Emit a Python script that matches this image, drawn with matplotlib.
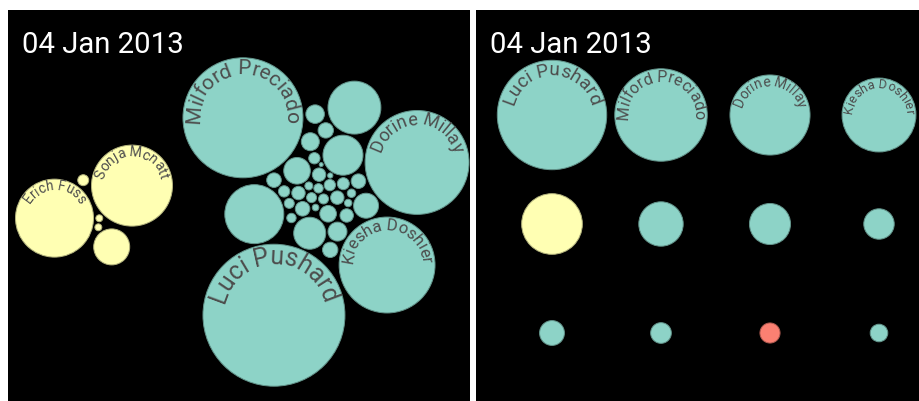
import numpy as np
import matplotlib
matplotlib.use("Agg")
import matplotlib.pyplot as plt
from matplotlib.patches import Circle
from matplotlib.font_manager import FontProperties, findfont, get_font

# ---------------- data ----------------
date_label = "04 Jan 2013"

teal_names = ["Luci Pushard", "Dorine Millay", "Milford Preciado", "Kiesha Doshier"] + [""] * 34
teal_values = [504, 270, 360, 230, 70, 5.3, 15.6, 17.7, 5.9, 5.9, 87, 9.0, 8.6, 6.9, 40,
               4.5, 2.5, 8.1, 25.6, 3.2, 0.4, 2.2, 4.5, 1.1, 3.6, 3.2, 2.2, 4.5, 5.3,
               0.7, 3.2, 2.5, 5.3, 1.6, 1.4, 1.8, 2.5, 4.5]

yellow_names = ["Sonja Mcnatt", "", "", "", "Erich Fuss", ""]
yellow_values = [164, 1.2, 32.4, 3.0, 152, 1.2]

grid_names = ["Luci Pushard", "Milford Preciado", "Dorine Millay", "Kiesha Doshier",
              "", "", "", "", "", "", "", ""]
grid_values = [504, 360, 270, 230, 155, 83, 71, 39, 26, 18, 17, 13]
grid_groups = ["b", "b", "b", "b", "a", "b", "b", "b", "b", "b", "c", "b"]

group_colors = {"a": "#ffffb3", "b": "#8dd3c7", "c": "#fb8072"}

# ---------------- helpers ----------------
W, H, DPI = 920, 401, 100
FONT = "Roboto"
LABEL_COLOR = "#4d4d4d"


def darker(hexcol, k=0.7):
    c = np.array(matplotlib.colors.to_rgb(hexcol)) * k
    return tuple(c)


GOLDEN = np.pi * (3 - np.sqrt(5))


def pack(values, scale, offset_deg, gxy=(1.0, 1.0), pad=2.5, iters=700):
    r = scale * np.sqrt(np.asarray(values, float))
    n = len(r)
    rank = np.argsort(np.argsort(r))
    d0 = np.sqrt(np.cumsum(np.sort(r) ** 2))[rank] * 1.3
    ang = np.deg2rad(offset_deg) + GOLDEN * np.arange(n)
    p = np.c_[d0 * np.cos(ang), d0 * np.sin(ang)]
    m = r ** 2
    pull = np.clip(0.12 / r, 0.0015, 0.03)[:, None] * np.asarray(gxy)[None, :]

    def collide(p, f=0.5):
        diff = p[:, None, :] - p[None, :, :]
        dist = np.sqrt((diff ** 2).sum(-1))
        np.fill_diagonal(dist, 1e9)
        need = r[:, None] + r[None, :] + pad
        ov = np.clip(need - dist, 0, None)
        w = m[None, :] / (m[:, None] + m[None, :])
        return p + f * ((ov * w / np.maximum(dist, 1e-6))[:, :, None] * diff).sum(1)

    for it in range(iters):
        p = p - p * pull
        for _ in range(3):
            p = collide(p)
    for _ in range(300):
        p = collide(p)
    return p, r


def place(p, r, anchor):
    lo = (p - r[:, None]).min(0)
    hi = (p + r[:, None]).max(0)
    return p - (lo + hi) / 2 + np.asarray(anchor)


def curved_label(ax, cx, cy, r, text):
    fpx = 0.35 * r
    fp = FontProperties(family=FONT)
    font = get_font(findfont(fp))
    font.set_size(fpx, 72)
    adv = 0.95 * np.array([font.load_char(ord(ch)).linearHoriAdvance / 65536 for ch in text])
    total = adv.sum()
    centers = np.cumsum(adv) - adv / 2 - total / 2
    R = r - 0.8 * fpx
    for ch, s in zip(text, centers):
        if ch == " ":
            continue
        th = np.pi / 2 - s / R
        ax.text(cx + R * np.cos(th), cy + R * np.sin(th), ch,
                rotation=np.degrees(th - np.pi / 2), rotation_mode="anchor",
                ha="center", va="baseline", fontsize=fpx * 72 / DPI,
                color=LABEL_COLOR, family=FONT)


def draw_circle(ax, x, y, r, col):
    ax.add_patch(Circle((x, y), r, facecolor=col, edgecolor=darker(col), lw=0.7))


def setup(ax, w, h):
    ax.set_xlim(0, w)
    ax.set_ylim(0, h)
    ax.set_facecolor("black")
    ax.set_xticks([])
    ax.set_yticks([])
    for s in ax.spines.values():
        s.set_visible(False)
    ax.text(14, h - 43, date_label, color="white", fontsize=21.2, family=FONT,
            ha="left", va="baseline")


# ---------------- figure ----------------
fig = plt.figure(figsize=(W / DPI, H / DPI), dpi=DPI, facecolor="white")

# left panel: clustered bubbles
axL = fig.add_axes([8 / W, 0, 462 / W, 391 / H])
wL, hL = 462, 391
setup(axL, wL, hL)

pT, rT = pack(teal_values, np.sqrt(10), 240, gxy=(1.4, 1.0))
pT = place(pT, rT, (318, 179))
pY, rY = pack(yellow_values, np.sqrt(10), 20)
pY = place(pY, rY, (86, 196))

for (x, y), r, nm in zip(pT, rT, teal_names):
    draw_circle(axL, x, y, r, group_colors["b"])
    if nm:
        curved_label(axL, x, y, r, nm)
for (x, y), r, nm in zip(pY, rY, yellow_names):
    draw_circle(axL, x, y, r, group_colors["a"])
    if nm:
        curved_label(axL, x, y, r, nm)

# right panel: grid of bubbles
axR = fig.add_axes([476 / W, 0, 444 / W, 391 / H])
wR, hR = 444, 391
setup(axR, wR, hR)
col_x0, row_y0, step = 76, 286, 109
scaleR = 54.7 / np.sqrt(504)
for i, (v, g, nm) in enumerate(zip(grid_values, grid_groups, grid_names)):
    x = col_x0 + (i % 4) * step
    y = row_y0 - (i // 4) * step
    r = scaleR * np.sqrt(v)
    draw_circle(axR, x, y, r, group_colors[g])
    if nm:
        curved_label(axR, x, y, r, nm)

fig.savefig("out.png", dpi=DPI, facecolor="white")
